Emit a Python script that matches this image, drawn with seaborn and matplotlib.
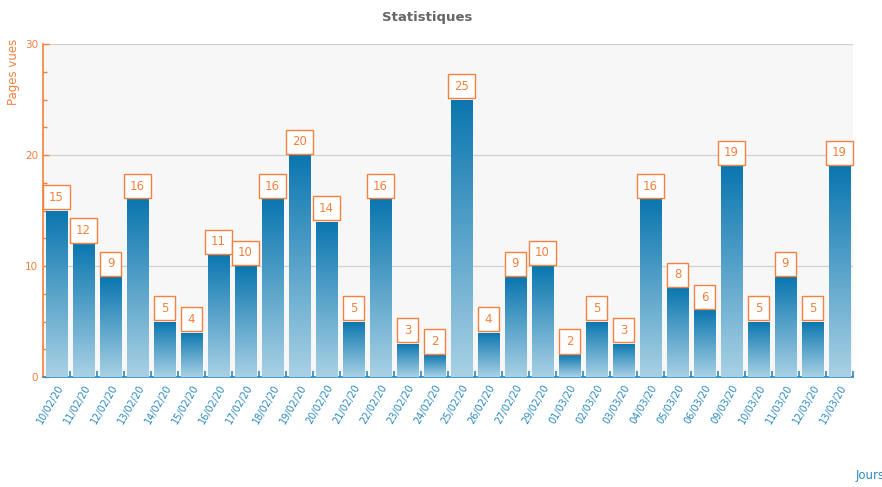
import matplotlib
matplotlib.use("Agg")
import matplotlib.pyplot as plt
import seaborn as sns
import numpy as np
import pandas as pd
from matplotlib.colors import LinearSegmentedColormap
from matplotlib.ticker import MultipleLocator
from matplotlib.path import Path

dates = ["10/02/20", "11/02/20", "12/02/20", "13/02/20", "14/02/20", "15/02/20",
         "16/02/20", "17/02/20", "18/02/20", "19/02/20", "20/02/20", "21/02/20",
         "22/02/20", "23/02/20", "24/02/20", "25/02/20", "26/02/20", "27/02/20",
         "29/02/20", "01/03/20", "02/03/20", "03/03/20", "04/03/20", "05/03/20",
         "06/03/20", "09/03/20", "10/03/20", "11/03/20", "12/03/20", "13/03/20"]
views = [15, 12, 9, 16, 5, 4, 11, 10, 16, 20, 14, 5, 16, 3, 2, 25, 4, 9, 10, 2,
         5, 3, 16, 8, 6, 19, 5, 9, 5, 19]

ORANGE = "#f5813f"
BLUE = "#2a89be"
PX, PY = 0.55, 0.47


def label_box(x0, y0, width, height, mutation_size):
    px = PX * mutation_size
    py = PY * mutation_size
    a, b = x0 - px, y0 - py
    c, d = x0 + width + px, y0 + height + py
    return Path([(a, b), (c, b), (c, d), (a, d), (a, b)],
                [Path.MOVETO, Path.LINETO, Path.LINETO, Path.LINETO, Path.CLOSEPOLY])


sns.set_theme(style="white")
plt.rcParams['font.family'] = ['DejaVu Sans']

fig = plt.figure(figsize=(8.82, 4.87), dpi=100)
ax = fig.add_axes([43/882, 1-377/487, 810/882, 333/487])
ax.set_facecolor("#f7f7f7")

df = pd.DataFrame({"date": dates, "views": views})
sns.barplot(data=df, x="date", y="views", ax=ax, width=0.81, color="#1a80b8",
            edgecolor="none", zorder=2)

cmap = LinearSegmentedColormap.from_list("g", ["#a9d1e5", "#0a76af"])
grad = np.linspace(0, 1, 256).reshape(-1, 1)
FS = 8.5
for p in ax.patches:
    x0 = p.get_x(); w = p.get_width(); h = p.get_height()
    im = ax.imshow(grad, cmap=cmap, aspect="auto", origin="lower",
                   extent=(x0, x0 + w, 0, h), zorder=3, interpolation="bilinear")
    im.set_clip_path(p)
    ax.annotate("%d" % int(h), (x0 + w/2, h), xytext=(0, PY * FS + 0.9),
                textcoords="offset points", ha="center", va="bottom",
                color=ORANGE, fontsize=FS, zorder=5,
                bbox=dict(boxstyle=label_box, fc="white", ec=ORANGE, lw=1))

ax.set_xlim(-0.5, len(dates) - 0.5)
ax.set_ylim(0, 30)
ax.yaxis.set_major_locator(MultipleLocator(10))
ax.yaxis.set_minor_locator(MultipleLocator(2.5))
ax.grid(axis="y", which="major", color="#d0d0d0", lw=0.9, zorder=1)
ax.set_axisbelow(True)

for s in ["top", "right"]:
    ax.spines[s].set_visible(False)
ax.spines["left"].set_color(ORANGE)
ax.spines["left"].set_linewidth(1.2)
ax.spines["bottom"].set_color(BLUE)
ax.spines["bottom"].set_linewidth(1.2)

ax.tick_params(axis="y", which="both", colors=ORANGE, direction="in", labelsize=7.5,
               left=True, length=4, width=1)
ax.tick_params(axis="y", which="minor", length=3)
ax.set_xticks(np.arange(len(dates)))
ax.set_xticklabels(dates, rotation=60, ha="right", rotation_mode="anchor",
                   color=BLUE, fontsize=7)
ax.set_xticks(np.arange(len(dates)) + 0.5, minor=True)
ax.tick_params(axis="x", which="major", length=0, pad=4)
ax.tick_params(axis="x", which="minor", direction="in", length=4, width=1.2,
               colors=BLUE, bottom=True)

ax.set_xlabel("")
ax.set_ylabel("")
fig.text(14/882, 1-72/487, "Pages vues", rotation=90, color=ORANGE, fontsize=8.5,
         ha="center", va="center")
fig.text(856/882, 1-476/487, "Jours", color=BLUE, fontsize=8.5, ha="left", va="center")
fig.text(427/882, 1-18/487, "Statistiques", color="#666666", fontsize=9.5,
         fontweight="bold", ha="center", va="center")

fig.savefig("out.png", dpi=100)
